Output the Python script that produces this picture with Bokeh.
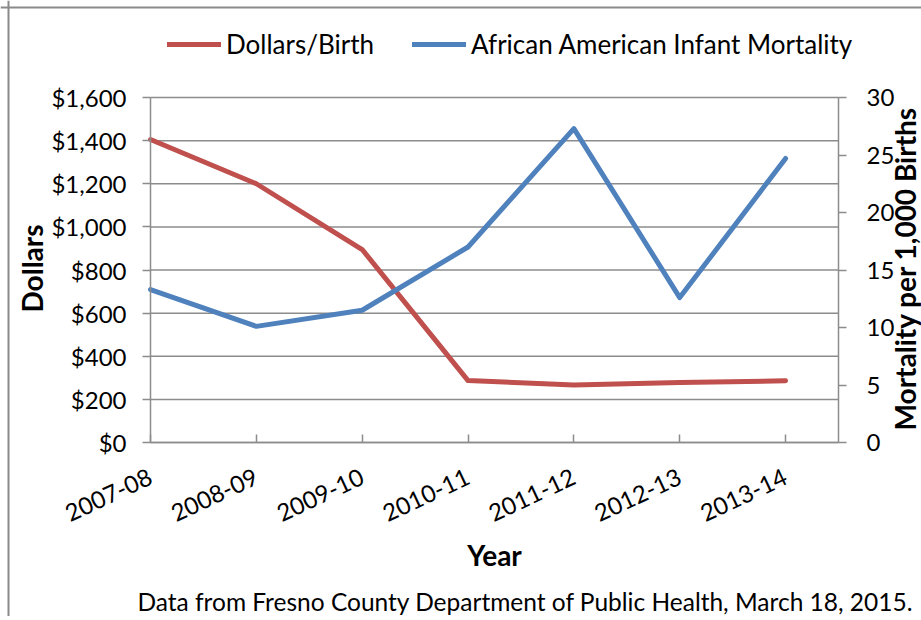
import math
from bokeh.plotting import figure
from bokeh.models import (Range1d, LinearAxis, FixedTicker, Legend, LegendItem,
                          Label, Span, NumeralTickFormatter)
from bokeh.embed import file_html
from bokeh.resources import INLINE

# ---------------- data ----------------
years = ["2007-08", "2008-09", "2009-10", "2010-11", "2011-12", "2012-13", "2013-14"]
dollars_per_birth = [1405, 1200, 895, 287, 267, 278, 286]
aa_infant_mortality = [13.3, 10.1, 11.5, 17.0, 27.3, 12.6, 24.7]
dollar_ticks = [0, 200, 400, 600, 800, 1000, 1200, 1400, 1600]
mortality_ticks = [0, 5, 10, 15, 20, 25, 30]
series_names = ["Dollars/Birth", "African American Infant Mortality"]
x_title = "Year"
y_title = "Dollars"
y2_title = "Mortality per 1,000 Births"
source_note = "Data from Fresno County Department of Public Health, March 18, 2015."

# ---------------- layout (canvas pixels) ----------------
FONT = "Lato"
GRID = "#8c8c8c"
RED = "#C0504D"
BLUE = "#4F81BD"
W, H = 921, 616
PLOT_L, PLOT_R = 150, 838       # plot area in canvas px
PLOT_T, PLOT_B = 97, 442

xs = list(range(len(years)))
X_END = len(years) - 0.5
Y_MAX = dollar_ticks[-1]
Y2_MAX = mortality_ticks[-1]

px_per_x = (PLOT_R - PLOT_L) / X_END
px_per_y = (PLOT_B - PLOT_T) / Y_MAX
px_per_y2 = (PLOT_B - PLOT_T) / Y2_MAX


def dx(px):
    return (px - PLOT_L) / px_per_x


def dy(py):
    return (PLOT_B - py) / px_per_y


def dy2(py):
    return (PLOT_B - py) / px_per_y2


p = figure(width=W, height=H, output_backend="svg", toolbar_location=None,
           x_range=Range1d(dx(0), dx(W)),
           y_range=Range1d(dy(H), dy(0)),
           min_border=0)
p.outline_line_color = None
p.background_fill_color = "white"
p.border_fill_color = "white"
p.extra_y_ranges = {"mort": Range1d(dy2(H), dy2(0))}
p.grid.grid_line_color = None


def style_axis(ax):
    ax.minor_tick_line_color = None
    ax.axis_line_color = GRID
    ax.axis_line_width = 1.5
    ax.major_tick_line_color = GRID
    ax.major_tick_line_width = 1.5
    ax.major_label_text_font = FONT
    ax.major_label_text_font_size = "24px"
    ax.major_label_text_color = "black"


# gridlines (from the dollar ticks)
p.segment(x0=[0] * len(dollar_ticks), x1=[X_END] * len(dollar_ticks),
          y0=dollar_ticks, y1=dollar_ticks, line_color=GRID, line_width=1.5)

# x axis
xa = p.xaxis[0]
style_axis(xa)
xa.fixed_location = 0
xa.bounds = (0, X_END)
xa.ticker = FixedTicker(ticks=xs)
xa.major_label_overrides = {i: y for i, y in zip(xs, years)}
xa.major_label_orientation = math.radians(25)
xa.major_tick_in = 8
xa.major_tick_out = 0
xa.major_label_standoff = 33

# left axis
ya = p.yaxis[0]
style_axis(ya)
ya.fixed_location = 0
ya.bounds = (0, Y_MAX)
ya.ticker = FixedTicker(ticks=dollar_ticks)
ya.formatter = NumeralTickFormatter(format="$0,0")
ya.major_tick_in = 0
ya.major_tick_out = 8
ya.major_label_standoff = 16

# right axis
ra = LinearAxis(y_range_name="mort", ticker=FixedTicker(ticks=mortality_ticks),
                fixed_location=X_END, bounds=(0, Y2_MAX))
style_axis(ra)
ra.major_tick_in = 0
ra.major_tick_out = 8
ra.major_label_standoff = 20
p.add_layout(ra, "right")

# series
r1 = p.line(xs, dollars_per_birth, line_color=RED, line_width=5,
            line_cap="round", line_join="round")
r2 = p.line(xs, aa_infant_mortality, line_color=BLUE, line_width=5,
            line_cap="round", line_join="round", y_range_name="mort")

# legend above the plot area
legend = Legend(items=[LegendItem(label=series_names[0], renderers=[r1]),
                       LegendItem(label=series_names[1], renderers=[r2])],
                orientation="horizontal",
                location=(167, H - 60),
                glyph_width=54, glyph_height=20, label_standoff=5, spacing=38,
                padding=0, margin=0, border_line_color=None,
                background_fill_alpha=0,
                label_text_font=FONT, label_text_font_size="26px",
                label_text_color="black")
p.add_layout(legend, "center")

# axis titles and source note
p.add_layout(Label(x=dx(31), y=dy(268), text=y_title, angle=math.pi / 2,
                   text_align="center", text_baseline="middle", text_font=FONT,
                   text_font_size="28px", text_font_style="bold", text_color="black"))
p.add_layout(Label(x=dx(904), y=dy(268), text=y2_title, angle=math.pi / 2,
                   text_align="center", text_baseline="middle", text_font=FONT,
                   text_font_size="28px", text_font_style="bold", text_color="black"))
p.add_layout(Label(x=dx(494), y=dy(554), text=x_title,
                   text_align="center", text_baseline="middle", text_font=FONT,
                   text_font_size="28px", text_font_style="bold", text_color="black"))
p.add_layout(Label(x=dx(913), y=dy(601), text=source_note,
                   text_align="right", text_baseline="middle", text_font=FONT,
                   text_font_size="24.5px", text_color="black"))

# chart border (left and top edges)
p.add_layout(Span(location=dx(8), dimension="height", line_color="#8a8a8a", line_width=2))
p.add_layout(Span(location=dy(7), dimension="width", line_color="#8a8a8a", line_width=2))

open("out.html", "w").write(file_html(p, INLINE))
